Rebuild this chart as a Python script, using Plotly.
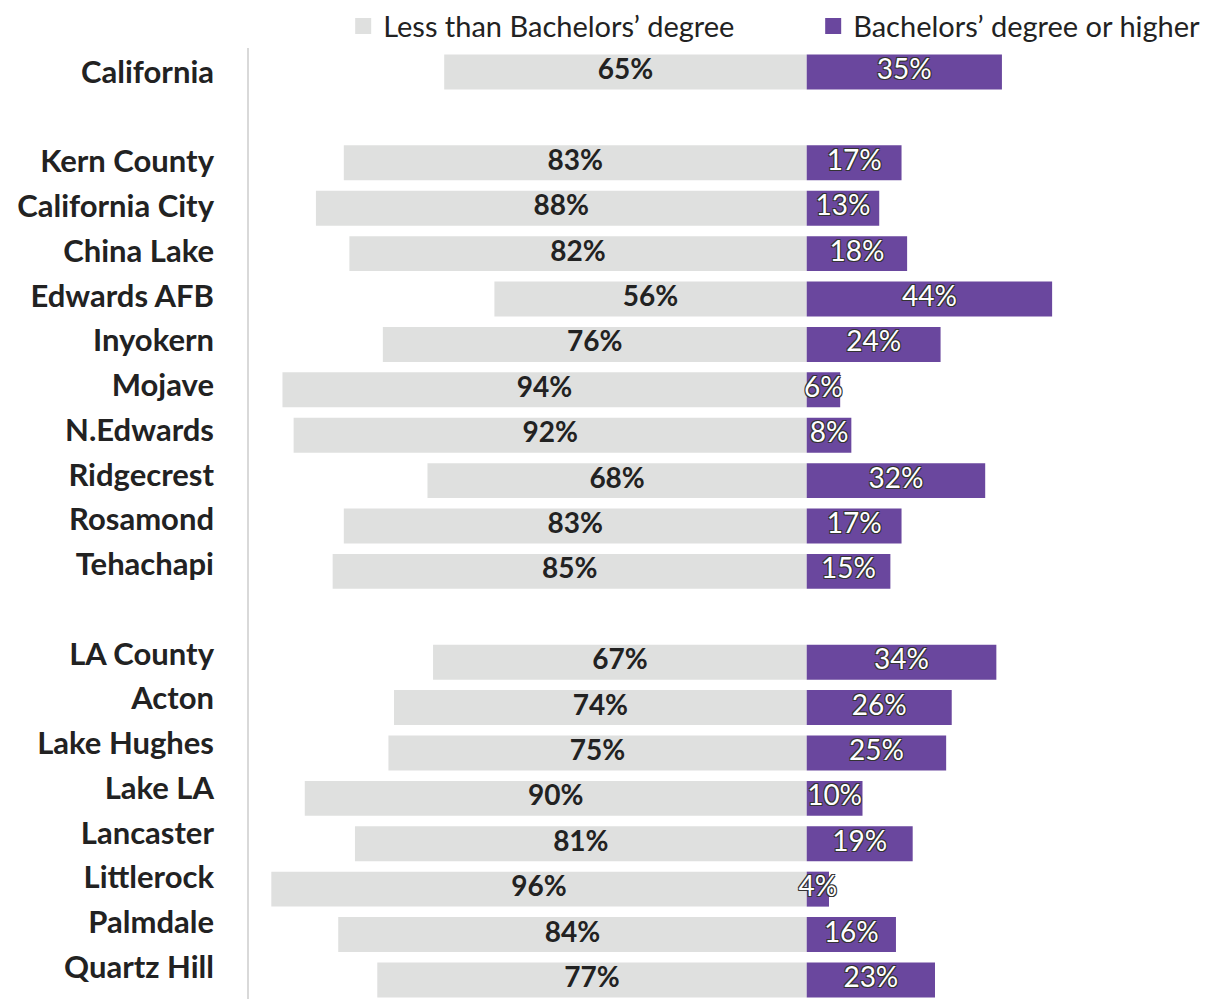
import plotly.graph_objects as go

categories = ["California", " ", "Kern County", "California City", "China Lake", "Edwards AFB",
              "Inyokern", "Mojave", "N.Edwards", "Ridgecrest", "Rosamond", "Tehachapi", "  ",
              "LA County", "Acton", "Lake Hughes", "Lake LA", "Lancaster", "Littlerock",
              "Palmdale", "Quartz Hill"]
places = [c for c in categories if c.strip()]
less_than_ba = [65, 83, 88, 82, 56, 76, 94, 92, 68, 83, 85, 67, 74, 75, 90, 81, 96, 84, 77]
ba_or_higher = [35, 17, 13, 18, 44, 24, 6, 8, 32, 17, 15, 34, 26, 25, 10, 19, 4, 16, 23]
series_names = ["Less than Bachelors’ degree", "Bachelors’ degree or higher"]

GRAY = "#DFE0DF"
PURPLE = "#6A479E"
FONT = "Lato"

fig = go.Figure()
fig.add_trace(go.Bar(y=places, x=[-v for v in less_than_ba], orientation="h",
                     marker=dict(color=GRAY, line=dict(width=0)), width=0.77,
                     name=series_names[0], showlegend=False, hoverinfo="skip"))
fig.add_trace(go.Bar(y=places, x=ba_or_higher, orientation="h",
                     marker=dict(color=PURPLE, line=dict(width=0)), width=0.77,
                     name=series_names[1], showlegend=False, hoverinfo="skip"))

fig.add_trace(go.Scatter(y=places, x=[-v / 2 for v in less_than_ba], mode="text",
                         text=[f"{v}%" for v in less_than_ba],
                         textfont=dict(family=FONT, size=28, color="#222222", weight="bold"),
                         showlegend=False, hoverinfo="skip", cliponaxis=False))
fig.add_trace(go.Scatter(y=places, x=[v / 2 for v in ba_or_higher], mode="text",
                         text=[f"{v}%" for v in ba_or_higher],
                         textfont=dict(family=FONT, size=28, color="white",
                                       shadow="-1px -1px 0 #333, 1px -1px 0 #333, -1px 1px 0 #333, 1px 1px 0 #333"),
                         showlegend=False, hoverinfo="skip", cliponaxis=False))

# carrier trace so the label axis is drawn
fig.add_trace(go.Scatter(x=[None], y=[None], yaxis="y2", mode="markers",
                         showlegend=False, hoverinfo="skip"))

# legend entries
for name, col in zip(series_names, [GRAY, PURPLE]):
    fig.add_trace(go.Scatter(x=[None], y=[None], mode="markers", name=name,
                             marker=dict(symbol="square", size=22, color=col)))

fig.update_layout(
    width=1217, height=991,
    margin=dict(l=241, r=5, t=40, b=0, autoexpand=False),
    paper_bgcolor="white", plot_bgcolor="white",
    barmode="relative",
    showlegend=True,
    legend=dict(orientation="h", x=0.097, xanchor="left", y=1.023, yanchor="middle",
                font=dict(family=FONT, size=29, color="#222222"),
                entrywidth=425, entrywidthmode="pixels", bgcolor="rgba(0,0,0,0)"),
    font=dict(family=FONT),
    yaxis=dict(categoryorder="array", categoryarray=categories, type="category",
               range=[20.42, -0.53], showgrid=False, zeroline=False,
               showline=True, linecolor="#D9D9D9", linewidth=2, ticks="",
               showticklabels=False),
    yaxis2=dict(overlaying="y", anchor="x", side="left", type="linear",
                range=[20.715, -0.536], showgrid=False,
                zeroline=False, showline=False, ticks="", tickmode="array",
                tickvals=list(range(len(categories))), ticktext=categories,
                ticklabelstandoff=34,
                tickfont=dict(family=FONT, size=31, color="#222222", weight="bold")),
)
fig.update_xaxes(range=[-100, 74.1], visible=False, showgrid=False, zeroline=False, fixedrange=True)

fig.write_html("out.html")
